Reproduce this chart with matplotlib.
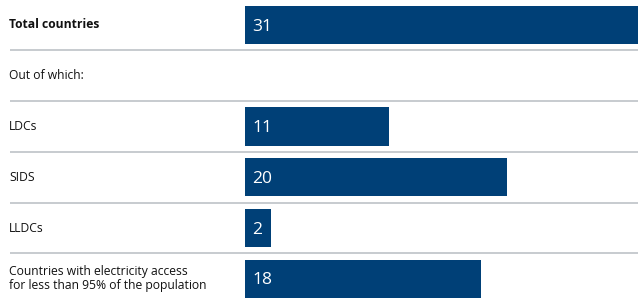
import matplotlib
matplotlib.use("Agg")
import matplotlib.pyplot as plt

categories = ["Total countries", "Out of which:", "LDCs", "SIDS", "LLDCs",
              "Countries with electricity access\nfor less than 95% of the population"]
values = [31, None, 11, 20, 2, 18]
bold = [True, False, False, False, False, False]

W, H = 638, 299
fig = plt.figure(figsize=(W / 100, H / 100), dpi=100)
plt.rcParams['font.family'] = ['Open Sans', 'DejaVu Sans']

pitch = 50.75
top_off = 25.0
y_top = -top_off / pitch
y_bot = (H - top_off) / pitch

# background axes for labels and separators (x in pixels)
bg = fig.add_axes([0, 0, 1, 1])
bg.set_xlim(0, W)
bg.set_ylim(y_bot, y_top)
bg.axis("off")

for i, lab in enumerate(categories):
    bg.text(9, i, lab, ha="left", va="center", fontsize=8.7,
            fontweight="bold" if bold[i] else "normal", color="#111111",
            linespacing=1.12)
for i in range(len(categories) - 1):
    bg.plot([10, W], [i + 0.5, i + 0.5], color="#c3c7cb", lw=1.3,
            solid_capstyle="butt")

# bar axes
x0 = 245
scale = 13.1
ax = fig.add_axes([x0 / W, 0, (W - x0) / W, 1])
ax.set_xlim(0, (W - x0) / scale)
ax.set_ylim(y_bot, y_top)
ax.axis("off")
ax.patch.set_alpha(0)

bar_color = "#004077"
for i, v in enumerate(values):
    if v is None:
        continue
    ax.barh(i, v, height=0.75, color=bar_color, left=0)
    ax.text(7 / scale, i + 0.03, str(v), ha="left", va="center", fontsize=12.5,
            color="white")

fig.savefig("out.png", dpi=100)
